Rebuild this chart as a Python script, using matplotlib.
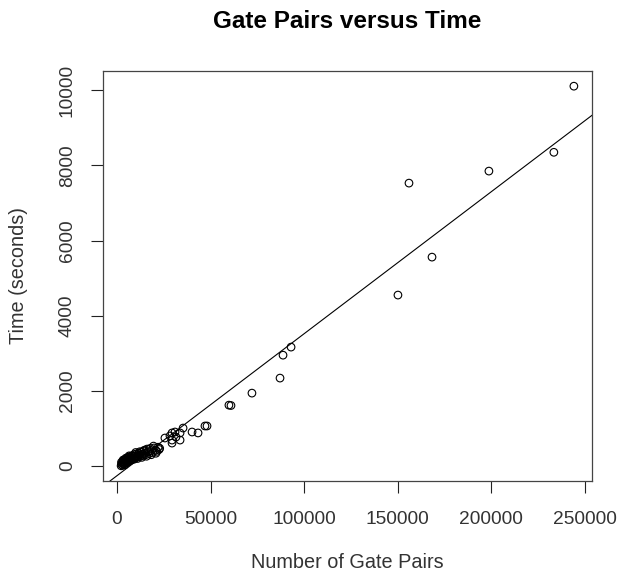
import numpy as np
import matplotlib
matplotlib.use("Agg")
import matplotlib.pyplot as plt

plt.rcParams['font.family'] = ['Liberation Sans', 'DejaVu Sans']

# gate pairs per run and the time each one took (seconds)
gate_pairs = [
    2200, 2500, 2800, 3000, 3100, 3400, 3600, 3900, 4100, 4300,
    4600, 4900, 5200, 5500, 5800, 6000, 6300, 6600, 6900, 7200,
    7500, 7900, 8200, 8600, 9000, 9400, 9800, 10200, 10700, 11100,
    11600, 12000, 12500, 13000, 13400, 13900, 14400, 14900, 15400, 16000,
    16600, 17200, 17800, 18400, 19000, 19800, 20600, 21300, 22000, 22500,
    2400, 3300, 4000, 4800, 5600, 6500, 7300, 8100, 9100, 10000,
    11000, 12200, 13300, 14600, 15800, 17000, 18300, 19500, 20800, 22800,
    25600, 28300, 29400, 29400, 29400, 31000, 31500, 33700, 33700, 35300,
    40100, 43300, 47000, 48100, 59800, 60900, 72100, 87100, 88700, 93000,
    150100, 156000, 168300, 198700, 233400, 244100,
]
seconds = [
    5, 40, 80, 20, 120, 60, 150, 100, 30, 170,
    130, 80, 200, 150, 110, 230, 180, 140, 250, 200,
    170, 270, 220, 190, 300, 250, 210, 320, 270, 240,
    340, 290, 260, 370, 310, 280, 400, 340, 300, 450,
    380, 330, 470, 410, 360, 480, 420, 390, 500, 440,
    100, 160, 60, 210, 120, 270, 150, 260, 180, 360,
    200, 380, 230, 420, 260, 440, 300, 530, 340, 470,
    745, 800, 880, 610, 690, 905, 770, 880, 690, 1010,
    905, 880, 1065, 1065, 1620, 1610, 1940, 2340, 2950, 3165,
    4550, 7530, 5560, 7850, 8350, 10110,
]

# least squares line through the runs
fit_intercept = -258
fit_slope = 0.0378

x_ticks = [0, 50000, 100000, 150000, 200000, 250000]
y_ticks = [0, 2000, 4000, 6000, 8000, 10000]

fig = plt.figure(figsize=(6.19, 5.75), dpi=100)
ax = fig.add_axes([103 / 619, 1 - 481 / 575, 489 / 619, 410 / 575])

ax.scatter(gate_pairs, seconds, s=30, facecolors='none', edgecolors='black',
           linewidths=0.8, zorder=3)
ax.axline((0, fit_intercept), slope=fit_slope, color='black', lw=0.8)

# R style 4% padding around the data range
xr = max(gate_pairs) - min(gate_pairs)
yr = max(seconds) - min(seconds)
ax.set_xlim(min(gate_pairs) - 0.04 * xr, max(gate_pairs) + 0.04 * xr)
ax.set_ylim(min(seconds) - 0.04 * yr, max(seconds) + 0.04 * yr)

ax.set_xticks(x_ticks)
ax.set_yticks(y_ticks)
ax.set_xticklabels([str(t) for t in x_ticks])
ax.set_yticklabels([str(t) for t in y_ticks], rotation=90, va='center')
ax.tick_params(length=8.6, width=0.8, labelsize=13.8, colors='#222222',
               labelcolor='#333333')
ax.tick_params(axis='x', pad=13)
ax.tick_params(axis='y', pad=11)
for s in ax.spines.values():
    s.set_linewidth(0.9)
    s.set_color('#444444')

ax.set_xlabel('Number of Gate Pairs', fontsize=14.3, color='#333333', labelpad=18)
ax.set_ylabel('Time (seconds)', fontsize=14.3, color='#333333', labelpad=22)
ax.set_title('Gate Pairs versus Time', fontsize=17.5, fontweight='bold', pad=31)

fig.savefig('out.png', dpi=100)
